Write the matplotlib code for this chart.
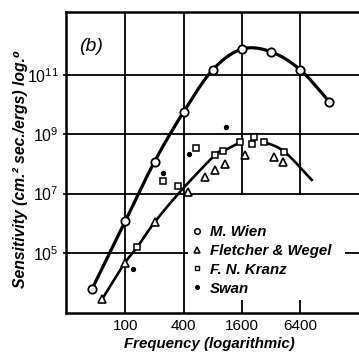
import numpy as np
import matplotlib
matplotlib.use('Agg')
import matplotlib.pyplot as plt
from matplotlib.lines import Line2D
from matplotlib.patches import Rectangle

# ---------------- data ----------------
wien_freq = [45, 100, 200, 400, 800, 1600, 3200, 6400, 12800]
wien_sens = [6.0e3, 1.2e6, 1.2e8, 5.7e9, 1.5e11, 7.4e11, 6.0e11, 1.5e11, 1.26e10]

fletcher_freq = [57.5, 98, 200, 441, 669, 835, 1059, 1706, 3420, 4290]
fletcher_sens = [2.8e3, 4.5e4, 1.08e6, 1.1e7, 3.7e7, 6.5e7, 1.0e8, 1.95e8, 1.7e8, 1.2e8]

kranz_freq = [132, 246, 353, 536, 843, 1020, 1530, 2020, 2135, 2710, 4390]
kranz_sens = [1.55e5, 2.75e7, 1.8e7, 3.5e8, 2.0e8, 2.7e8, 5.3e8, 4.6e8, 7.8e8, 5.6e8, 2.6e8]

swan_freq = [119, 246, 456, 1085]
swan_sens = [2.9e4, 4.8e7, 2.1e8, 1.8e9]

# lower drawn curve (two pieces)
lower_freq_a = [57.5, 98, 132, 200, 380, 843, 1020, 1530]
lower_sens_a = [2.8e3, 4.5e4, 1.55e5, 1.08e6, 1.3e7, 2.0e8, 2.7e8, 5.3e8]
lower_freq_b = [2710, 4390, 8440]
lower_sens_b = [5.6e8, 2.6e8, 2.9e7]

x_ticks = [100, 400, 1600, 6400]
x_tick_labels = ['100', '400', '1600', '6400']
y_ticks = [1e5, 1e7, 1e9, 1e11]
y_tick_labels = [r'$10^{5}$', r'$10^{7}$', r'$10^{9}$', r'$10^{11}$']
series_labels = ['M. Wien', 'Fletcher & Wegel', 'F. N. Kranz', 'Swan']

# ---------------- style ----------------
plt.rcParams['font.family'] = ['Liberation Sans', 'DejaVu Sans']
plt.rcParams['mathtext.fontset'] = 'custom'
plt.rcParams['mathtext.rm'] = 'Liberation Sans'
plt.rcParams['mathtext.it'] = 'Liberation Sans:italic'
plt.rcParams['mathtext.bf'] = 'Liberation Sans:bold'


def smooth(xs, ys, n=24):
    """Catmull-Rom curve through the points in log-log space."""
    P = np.column_stack([np.log10(xs), np.log10(ys)])
    P = np.vstack([2 * P[0] - P[1], P, 2 * P[-1] - P[-2]])
    out = []
    t = np.linspace(0, 1, n, endpoint=False)[:, None]
    for i in range(1, len(P) - 2):
        p0, p1, p2, p3 = P[i - 1], P[i], P[i + 1], P[i + 2]
        pt = 0.5 * (2 * p1 + (-p0 + p2) * t + (2 * p0 - 5 * p1 + 4 * p2 - p3) * t ** 2
                    + (-p0 + 3 * p1 - 3 * p2 + p3) * t ** 3)
        out.append(pt)
    out.append(P[-2][None, :])
    pts = np.vstack(out)
    return 10 ** pts[:, 0], 10 ** pts[:, 1]


fig = plt.figure(figsize=(3.59, 3.52), dpi=100)
ax = fig.add_axes([66 / 359, 39 / 352, 293 / 359, 301 / 352])
ax.set_xscale('log')
ax.set_yscale('log')
ax.set_xlim(24.3, 26000)
ax.set_ylim(10 ** 2.978, 10 ** 13.12)

ax.set_axisbelow(True)
ax.grid(True, which='major', color='black', lw=1.3)
ax.minorticks_off()
ax.set_xticks(x_ticks)
ax.set_xticklabels(x_tick_labels)
ax.set_yticks(y_ticks)
ax.set_yticklabels(y_tick_labels)
ax.tick_params(axis='x', length=0, pad=4.5, labelsize=11)
ax.tick_params(axis='y', length=2, width=1.2, pad=3, labelsize=11.5)
for s in ['left', 'bottom', 'top']:
    ax.spines[s].set_linewidth(1.8)
ax.spines['right'].set_visible(False)

# blank area behind the legend (gridlines interrupted)
ax.add_patch(Rectangle((0.416, 0.043), 0.536, 0.349, transform=ax.transAxes,
                       facecolor='white', edgecolor='none', zorder=1))

# curves
wx, wy = smooth(wien_freq, wien_sens)
ax.plot(wx, wy, color='black', lw=2.3, zorder=3, solid_capstyle='round')
ax_, ay_ = smooth(lower_freq_a, lower_sens_a)
ax.plot(ax_, ay_, color='black', lw=1.9, zorder=3)
bx_, by_ = smooth(lower_freq_b, lower_sens_b)
ax.plot(bx_, by_, color='black', lw=1.9, zorder=3)

# points
mk = dict(linestyle='none', markerfacecolor='white', markeredgecolor='black', zorder=4)
ax.plot(wien_freq, wien_sens, marker='o', markersize=6, markeredgewidth=1.3, **mk)
ax.plot(fletcher_freq, fletcher_sens, marker='^', markersize=6, markeredgewidth=1.2, **mk)
ax.plot(kranz_freq, kranz_sens, marker='s', markersize=4.8, markeredgewidth=1.1, **mk)
ax.plot(swan_freq, swan_sens, marker='o', markersize=2.8, linestyle='none',
        color='black', zorder=4)

# legend
handles = [
    Line2D([], [], marker='o', linestyle='none', markerfacecolor='white',
           markeredgecolor='black', markersize=4, markeredgewidth=1.1),
    Line2D([], [], marker='^', linestyle='none', markerfacecolor='white',
           markeredgecolor='black', markersize=4.2, markeredgewidth=1.1),
    Line2D([], [], marker='s', linestyle='none', markerfacecolor='white',
           markeredgecolor='black', markersize=3.4, markeredgewidth=1.0),
    Line2D([], [], marker='o', linestyle='none', color='black', markersize=2.6),
]
leg = ax.legend(handles, series_labels, loc='upper left', bbox_to_anchor=(0.425, 0.293),
                frameon=False, handlelength=0.8, handletextpad=0.5, labelspacing=0.33,
                borderpad=0, borderaxespad=0,
                prop=dict(family=['Liberation Sans', 'DejaVu Sans'], style='italic',
                          weight='bold', size=10.8))
leg.set_zorder(5)

# texts
ax.text(0.085, 0.885, '(b)', transform=ax.transAxes, fontsize=14, style='italic',
        ha='center', va='center')
ax.set_xlabel('Frequency (logarithmic)', fontsize=10.8, style='italic', weight='bold')
ax.xaxis.set_label_coords(0.49, -0.08)
ax.set_ylabel('Sensitivity (cm.² sec./ergs) log.⁰', fontsize=11.3, style='italic',
              weight='bold')
ax.yaxis.set_label_coords(-0.128, 0.478)

fig.savefig('out.png', dpi=100)
